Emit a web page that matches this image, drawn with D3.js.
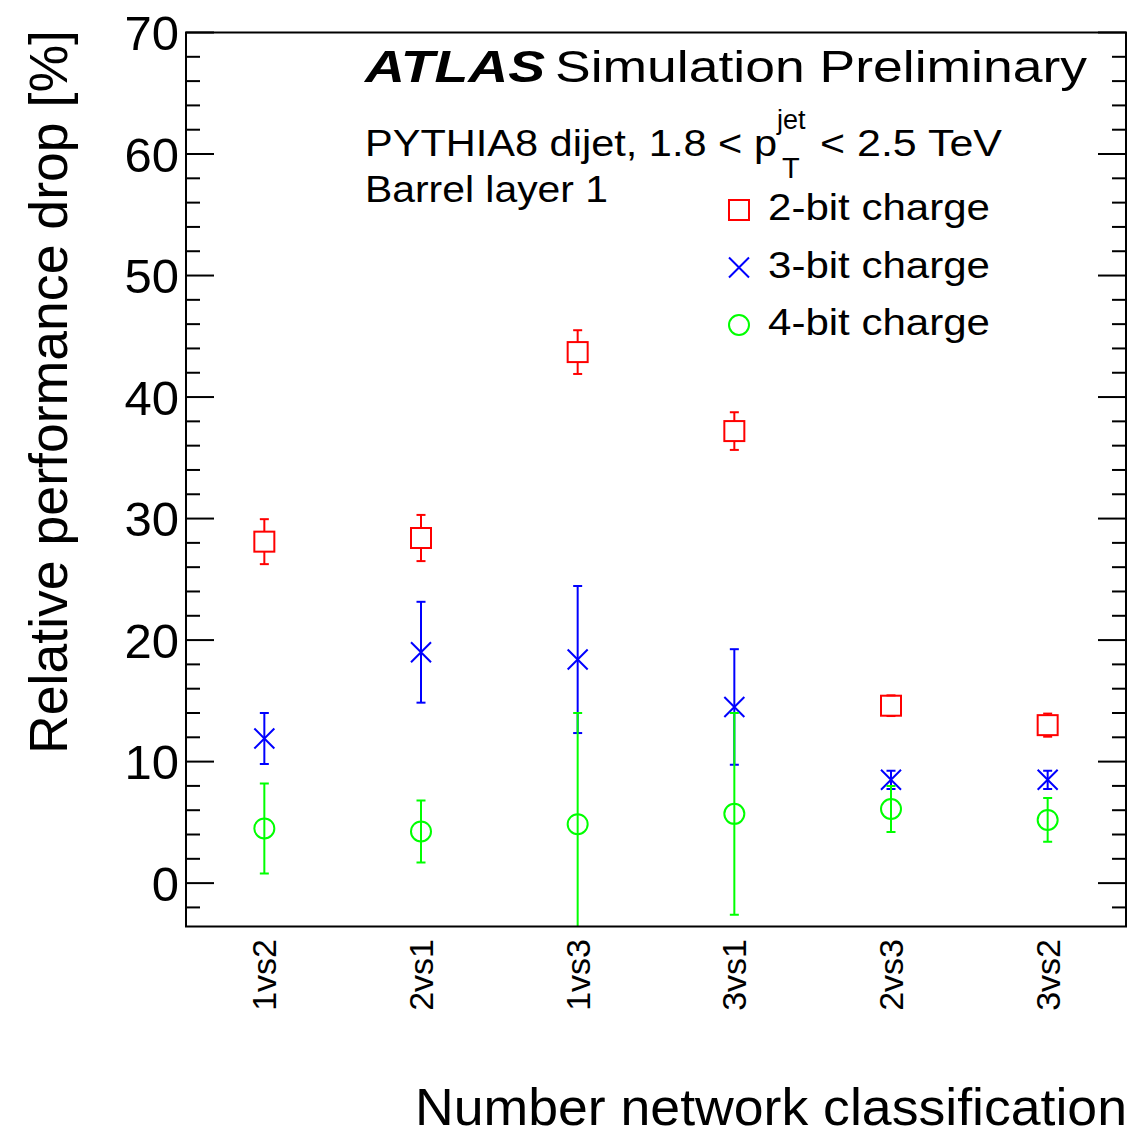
<!DOCTYPE html>
<html>
<head>
<meta charset="utf-8">
<script src="https://cdn.jsdelivr.net/npm/d3@7"></script>
<style>
  body { margin: 0; background: #fff; }
  text { font-family: "Liberation Sans", Arial, Helvetica, sans-serif; fill: #000; }
</style>
</head>
<body>
<div id="chart"></div>
<script>
// categories on the x axis
const categories = ["1vs2", "2vs1", "1vs3", "3vs1", "2vs3", "3vs2"];

// relative performance drop [%] and its error, per charge precision
const bit2 = [28.1, 28.4, 43.7, 37.2, 14.6, 13.0];
const bit2Err = [1.85, 1.9, 1.8, 1.55, 0.85, 0.95];
const bit3 = [11.9, 19.0, 18.4, 14.5, 8.5, 8.5];
const bit3Err = [2.1, 4.15, 6.05, 4.75, 0.75, 0.75];
const bit4 = [4.5, 4.25, 4.85, 5.7, 6.1, 5.2];
const bit4Err = [3.7, 2.55, 9.15, 8.3, 1.9, 1.8];

const yTicks = [0, 10, 20, 30, 40, 50, 60, 70];
const yMin = -3.57, yMax = 70;

const series = [
    {name: "2-bit charge", values: bit2, errors: bit2Err, color: "#ff0000", marker: "square"},
    {name: "3-bit charge", values: bit3, errors: bit3Err, color: "#0000ff", marker: "cross"},
    {name: "4-bit charge", values: bit4, errors: bit4Err, color: "#00ff00", marker: "circle"}
];

const W = 1140, H = 1135;
const frame = {left: 186, right: 1126, top: 32.5, bottom: 926.5};

const svg = d3.select("#chart").append("svg")
    .attr("width", W)
    .attr("height", H);

const x = d3.scaleBand().domain(categories).range([frame.left, frame.right]);
const y = d3.scaleLinear().domain([yMin, yMax]).range([frame.bottom, frame.top]);

svg.append("clipPath").attr("id", "clip")
    .append("rect")
    .attr("x", frame.left).attr("y", frame.top)
    .attr("width", frame.right - frame.left)
    .attr("height", frame.bottom - frame.top);

// ticks, left and right (major every 10, minor every 2)
const minor = d3.range(-2, 71, 2).filter(v => v % 10 !== 0);
const ticksG = svg.append("g").attr("stroke", "#000").attr("stroke-width", 2);
for (const v of yTicks) {
    ticksG.append("line").attr("x1", frame.left).attr("x2", frame.left + 28).attr("y1", y(v)).attr("y2", y(v));
    ticksG.append("line").attr("x1", frame.right).attr("x2", frame.right - 28).attr("y1", y(v)).attr("y2", y(v));
}
for (const v of minor) {
    ticksG.append("line").attr("x1", frame.left).attr("x2", frame.left + 14).attr("y1", y(v)).attr("y2", y(v));
    ticksG.append("line").attr("x1", frame.right).attr("x2", frame.right - 14).attr("y1", y(v)).attr("y2", y(v));
}

// y tick labels
svg.append("g").selectAll("text")
    .data(yTicks)
    .enter()
    .append("text")
    .attr("x", 179)
    .attr("y", d => y(d) + 17.5)
    .attr("text-anchor", "end")
    .style("font-size", "49px")
    .text(d => d);

// x tick labels (rotated)
svg.append("g").selectAll("text")
    .data(categories)
    .enter()
    .append("text")
    .attr("transform", d => `translate(${x(d) + x.bandwidth() / 2 + 12},939) rotate(-90)`)
    .attr("text-anchor", "end")
    .style("font-size", "34px")
    .text(d => d);

// error bars and markers
const plot = svg.append("g").attr("clip-path", "url(#clip)");
const half = 10, cap = 4.5;

series.forEach(s => {
    const g = plot.append("g")
        .attr("stroke", s.color)
        .attr("stroke-width", 2)
        .attr("fill", "none");
    s.values.forEach((v, i) => {
        const cx = x(categories[i]) + x.bandwidth() / 2;
        const cy = y(v);
        const yt = y(v + s.errors[i]);
        const yb = y(v - s.errors[i]);
        if (s.marker === "square") {
            if (cy - half > yt) g.append("line").attr("x1", cx).attr("x2", cx).attr("y1", yt).attr("y2", cy - half);
            if (cy + half < yb) g.append("line").attr("x1", cx).attr("x2", cx).attr("y1", cy + half).attr("y2", yb);
        } else {
            g.append("line").attr("x1", cx).attr("x2", cx).attr("y1", yt).attr("y2", yb);
        }
        g.append("line").attr("x1", cx - cap).attr("x2", cx + cap).attr("y1", yt).attr("y2", yt);
        g.append("line").attr("x1", cx - cap).attr("x2", cx + cap).attr("y1", yb).attr("y2", yb);
        drawMarker(g, s.marker, cx, cy);
    });
});

function drawMarker(g, type, cx, cy) {
    if (type === "square") {
        g.append("rect").attr("x", cx - half).attr("y", cy - half).attr("width", 2 * half).attr("height", 2 * half);
    } else if (type === "cross") {
        g.append("path").attr("d", `M${cx - half},${cy - half}L${cx + half},${cy + half}M${cx - half},${cy + half}L${cx + half},${cy - half}`);
    } else {
        g.append("circle").attr("cx", cx).attr("cy", cy).attr("r", half);
    }
}

// frame
svg.append("rect")
    .attr("x", frame.left).attr("y", frame.top)
    .attr("width", frame.right - frame.left)
    .attr("height", frame.bottom - frame.top)
    .attr("fill", "none")
    .attr("stroke", "#000")
    .attr("stroke-width", 2);

// axis titles
svg.append("text")
    .attr("transform", "translate(67,30) rotate(-90)")
    .attr("text-anchor", "end")
    .style("font-size", "53px")
    .attr("textLength", 724)
    .attr("lengthAdjust", "spacingAndGlyphs")
    .text("Relative performance drop [%]");

svg.append("text")
    .attr("x", 1127).attr("y", 1125)
    .attr("text-anchor", "end")
    .style("font-size", "52px")
    .attr("textLength", 712)
    .attr("lengthAdjust", "spacingAndGlyphs")
    .text("Number network classification");

// ATLAS label
svg.append("text")
    .attr("x", 365).attr("y", 82)
    .style("font-size", "45px")
    .style("font-weight", "bold")
    .style("font-style", "italic")
    .attr("textLength", 180)
    .attr("lengthAdjust", "spacingAndGlyphs")
    .text("ATLAS");

svg.append("text")
    .attr("x", 555).attr("y", 82)
    .style("font-size", "45px")
    .attr("textLength", 532)
    .attr("lengthAdjust", "spacingAndGlyphs")
    .text("Simulation Preliminary");

// sample description
svg.append("text")
    .attr("x", 365).attr("y", 156)
    .style("font-size", "37px")
    .attr("textLength", 412)
    .attr("lengthAdjust", "spacingAndGlyphs")
    .text("PYTHIA8 dijet, 1.8 < p");
svg.append("text")
    .attr("x", 777).attr("y", 129)
    .style("font-size", "27px")
    .text("jet");
svg.append("text")
    .attr("x", 782).attr("y", 178)
    .style("font-size", "29px")
    .text("T");
svg.append("text")
    .attr("x", 820).attr("y", 156)
    .style("font-size", "37px")
    .attr("textLength", 182)
    .attr("lengthAdjust", "spacingAndGlyphs")
    .text("< 2.5 TeV");

svg.append("text")
    .attr("x", 365).attr("y", 202)
    .style("font-size", "37px")
    .attr("textLength", 243)
    .attr("lengthAdjust", "spacingAndGlyphs")
    .text("Barrel layer 1");

// legend
const legend = svg.append("g");
series.forEach((s, i) => {
    const ly = 210 + i * 57.5;
    const lg = legend.append("g")
        .attr("stroke", s.color)
        .attr("stroke-width", 2)
        .attr("fill", "none");
    drawMarker(lg, s.marker, 739, ly);
    legend.append("text")
        .attr("x", 768).attr("y", ly + 10)
        .style("font-size", "37px")
        .attr("textLength", 222)
        .attr("lengthAdjust", "spacingAndGlyphs")
        .text(s.name);
});
</script>
</body>
</html>
